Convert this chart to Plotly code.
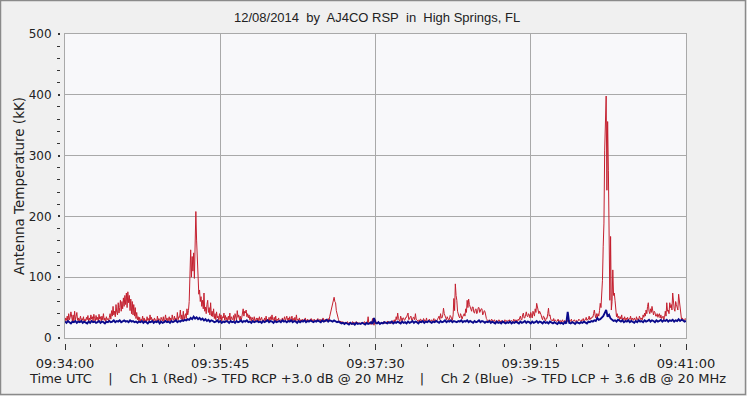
import pandas as pd
import plotly.graph_objects as go

# ---------------- data ----------------
start_time = "2014-12-08 09:34:00"
end_time = "2014-12-08 09:41:00"

# Ch 1 (red), one sample every 0.5 s from 09:34:00
red_ch1 = [
    27, 33, 29, 36, 26, 40, 30, 34, 43, 31, 28, 38, 27, 44, 30, 35, 42, 29, 33, 27,
    30, 36, 27, 32, 29, 35, 26, 31, 28, 34, 30, 37, 27, 33, 29, 38, 31, 35, 28, 39,
    32, 28, 37, 30, 34, 27, 39, 31, 35, 28, 36, 30, 40, 29, 33, 27, 35, 30, 32, 28,
    34, 40, 31, 45, 36, 52, 38, 44, 35, 55, 42, 38, 58, 41, 50, 62, 44, 60, 48, 66,
    52, 70, 55, 74, 50, 76, 58, 70, 45, 64, 40, 60, 38, 55, 36, 50, 32, 42, 30, 35,
    28, 34, 27, 31, 29, 36, 27, 33, 28, 30, 26, 35, 29, 32, 27, 38, 30, 34, 28, 31,
    27, 33, 29, 30, 26, 36, 28, 32, 30, 27, 34, 29, 28, 35, 26, 31, 38, 29, 33, 27,
    30, 35, 28, 33, 27, 38, 31, 29, 36, 28, 33, 27, 42, 30, 35, 34, 46, 31, 38, 29,
    44, 30, 36, 40, 32, 48, 38, 45, 60, 92, 145, 100, 134, 110, 140, 98, 150, 208, 161, 120,
    90, 72, 79, 60, 68, 52, 62, 48, 74, 44, 51, 40, 55, 62, 42, 50, 38, 58, 36, 44,
    35, 48, 32, 40, 30, 43, 33, 36, 29, 40, 31, 38, 28, 35, 33, 41, 29, 37, 30, 34,
    28, 36, 30, 41, 27, 35, 32, 30, 37, 28, 40, 33, 29, 45, 34, 38, 30, 36, 29, 33,
    38, 48, 36, 44, 41, 46, 35, 40, 33, 38, 30, 35, 28, 34, 31, 29, 35, 27, 30, 33,
    28, 33, 27, 35, 29, 31, 34, 27, 30, 28, 33, 27, 36, 29, 31, 28, 34, 27, 35, 30,
    38, 30, 29, 34, 28, 36, 27, 31, 29, 33, 27, 30, 29, 28, 33, 29, 30, 35, 28, 31,
    36, 29, 33, 28, 35, 27, 30, 36, 28, 32, 29, 34, 27, 38, 29, 31, 28, 33, 27, 30,
    28, 31, 27, 30, 29, 33, 27, 29, 31, 28, 30, 27, 29, 32, 28, 30, 27, 31, 29, 28,
    30, 28, 32, 27, 29, 31, 28, 30, 27, 33, 29, 28, 31, 27, 30, 29, 32, 28, 35, 40,
    44, 50, 55, 62, 67, 60, 58, 45, 38, 33, 30, 27, 26, 28, 25, 27, 24, 26, 25, 24,
    26, 24, 27, 25, 23, 26, 24, 25, 22, 27, 24, 26, 25, 23, 27, 24, 26, 24, 25, 23,
    25, 23, 26, 24, 25, 27, 24, 26, 23, 25, 35, 24, 26, 23, 22, 25, 32, 24, 21, 26,
    30, 24, 23, 26, 27, 24, 25, 23, 26, 24, 25, 27, 24, 26, 25, 23, 28, 25, 26, 24,
    27, 25, 24, 28, 29, 26, 30, 27, 35, 30, 41, 32, 30, 27, 36, 30, 28, 33, 33, 29,
    30, 34, 34, 38, 41, 30, 31, 35, 36, 29, 29, 34, 34, 30, 40, 31, 30, 28, 27, 30,
    28, 31, 30, 27, 27, 32, 29, 27, 28, 33, 26, 29, 29, 31, 27, 28, 30, 26, 28, 32,
    27, 30, 29, 28, 31, 35, 36, 30, 40, 33, 33, 38, 49, 40, 37, 32, 30, 35, 33, 29,
    31, 37, 35, 30, 29, 38, 65, 45, 89, 70, 62, 44, 38, 35, 33, 40, 37, 31, 35, 38,
    40, 36, 48, 42, 62, 50, 64, 55, 50, 44, 44, 51, 51, 42, 41, 47, 48, 40, 43, 50,
    50, 42, 46, 48, 48, 38, 40, 45, 44, 36, 32, 30, 28, 27, 30, 28, 27, 31, 29, 28,
    28, 30, 26, 29, 29, 27, 27, 30, 28, 26, 26, 29, 28, 27, 25, 30, 27, 28, 29, 27,
    28, 30, 26, 29, 29, 27, 27, 31, 28, 26, 30, 28, 27, 31, 29, 33, 36, 30, 30, 38,
    41, 33, 33, 38, 43, 36, 35, 40, 38, 33, 42, 37, 33, 44, 39, 36, 48, 42, 57, 50,
    50, 40, 44, 38, 38, 33, 30, 36, 35, 30, 28, 33, 32, 40, 49, 36, 38, 31, 29, 30,
    28, 32, 27, 30, 29, 27, 28, 31, 27, 29, 29, 26, 28, 30, 26, 28, 29, 27, 28, 30,
    27, 30, 29, 27, 28, 31, 26, 28, 28, 30, 27, 29, 29, 27, 28, 31, 30, 28, 27, 30,
    29, 32, 28, 30, 30, 34, 29, 31, 31, 36, 30, 33, 32, 35, 34, 40, 46, 38, 33, 40,
    33, 40, 36, 45, 57, 50, 74, 95, 150, 189, 309, 360, 398, 243, 356, 276, 172, 62, 167, 46,
    60, 112, 70, 74, 62, 45, 35, 40, 33, 36, 30, 35, 31, 38, 29, 33, 30, 35, 28, 33,
    30, 34, 29, 32, 31, 36, 28, 33, 30, 29, 33, 31, 28, 35, 30, 32, 29, 36, 31, 30,
    33, 30, 38, 34, 41, 36, 46, 40, 52, 58, 44, 40, 48, 42, 52, 46, 38, 44, 42, 36,
    36, 40, 34, 38, 40, 33, 38, 32, 35, 36, 30, 34, 44, 36, 58, 44, 46, 40, 58, 50,
    55, 46, 74, 52, 48, 44, 60, 55, 52, 46, 72, 60, 44, 36, 30, 33, 31, 28, 29, 32,
    30,
]

# Ch 2 (blue), one sample every 1 s from 09:34:00
blue_ch2 = [
    27, 25, 28, 26, 24, 27, 26, 28, 25, 27,
    26, 28, 25, 27, 26, 24, 27, 25, 28, 26,
    27, 25, 26, 28, 25, 27, 26, 24, 27, 26,
    28, 26, 27, 29, 26, 28, 27, 29, 26, 28,
    29, 27, 28, 26, 29, 27, 28, 26, 27, 25,
    27, 26, 28, 25, 27, 26, 24, 27, 26, 28,
    25, 27, 26, 28, 24, 27, 25, 26, 28, 26,
    27, 25, 28, 26, 27, 29, 26, 28, 27, 29,
    28, 30, 29, 31, 30, 33, 31, 35, 32, 34,
    31, 33, 30, 32, 29, 31, 28, 30, 27, 29,
    28, 26, 27, 29, 26, 28, 25, 27, 26, 28,
    27, 25, 28, 26, 27, 25, 28, 26, 27, 29,
    26, 28, 27, 29, 26, 27, 25, 28, 26, 27,
    28, 26, 27, 25, 28, 26, 27, 29, 26, 28,
    27, 25, 28, 26, 27, 28, 26, 29, 27, 28,
    26, 28, 27, 29, 26, 28, 27, 25, 28, 26,
    28, 27, 29, 26, 28, 27, 29, 28, 26, 28,
    27, 29, 28, 26, 29, 27, 28, 30, 27, 29,
    28, 27, 29, 28, 26, 27, 25, 24, 25, 23,
    25, 24, 22, 25, 23, 24, 22, 25, 23, 24,
    23, 25, 24, 22, 25, 23, 24, 26, 23, 33,
    25, 24, 26, 23, 25, 24, 26, 25, 24, 26,
    25, 27, 24, 26, 25, 27, 26, 24, 27, 25,
    26, 24, 27, 25, 26, 28, 25, 27, 26, 24,
    27, 26, 28, 25, 27, 26, 28, 27, 25, 27,
    26, 28, 27, 25, 28, 26, 27, 29, 26, 28,
    27, 29, 26, 28, 27, 26, 28, 27, 29, 26,
    28, 27, 29, 26, 28, 27, 25, 28, 26, 27,
    29, 26, 28, 27, 25, 27, 26, 28, 25, 27,
    26, 24, 27, 25, 26, 24, 27, 25, 24, 26,
    25, 27, 24, 26, 25, 27, 26, 24, 27, 25,
    26, 28, 25, 27, 26, 24, 27, 25, 26, 28,
    25, 27, 26, 24, 27, 25, 26, 24, 27, 25,
    24, 26, 25, 23, 26, 24, 25, 23, 26, 24,
    43, 25, 24, 26, 25, 23, 26, 25, 24, 26,
    25, 27, 26, 24, 27, 26, 28, 27, 29, 28,
    33, 30, 31, 33, 36, 41, 46, 35, 38, 32,
    30, 28, 29, 27, 30, 28, 27, 29, 26, 28,
    27, 29, 26, 28, 27, 25, 28, 26, 29, 27,
    28, 26, 29, 27, 28, 30, 27, 29, 28, 26,
    29, 27, 28, 30, 27, 29, 28, 30, 27, 29,
    28, 30, 27, 29, 28, 31, 28, 30, 29, 27,
    28,
]

y_range = [0, 500]
title_text = "12/08/2014\u00a0 by\u00a0 AJ4CO RSP\u00a0 in\u00a0 High Springs, FL"
y_title = "Antenna Temperature (kK)"
footer_text = ("Time UTC\u00a0\u00a0\u00a0 |\u00a0\u00a0\u00a0 Ch 1 (Red) -> TFD RCP +3.0 dB @ 20 MHz"
               "\u00a0\u00a0\u00a0 |\u00a0\u00a0\u00a0 Ch 2 (Blue)\u00a0 -> TFD LCP + 3.6 dB @ 20 MHz")

red_times = pd.date_range(start_time, periods=len(red_ch1), freq="500ms")
blue_times = pd.date_range(start_time, periods=len(blue_ch2), freq="s")

# ---------------- layout geometry (pixels) ----------------
W, H = 747, 396
ML, MR, MT, MB = 50, 61, 34, 53
PLOT_L, PLOT_B = 65, 338
PW = W - ML - MR
PH = H - MT - MB


def px(xp):
    return (xp - ML) / PW


def py(yp):
    return (H - MB - yp) / PH


FONT = "DejaVu Sans"
GRID = "#A9A9A9"
TXT = "#222222"

fig = go.Figure()
fig.add_trace(go.Scatter(x=red_times, y=red_ch1, mode="lines",
                         line=dict(color="#C4202F", width=1), hoverinfo="skip"))
fig.add_trace(go.Scatter(x=blue_times, y=blue_ch2, mode="lines",
                         line=dict(color="#0A0A8C", width=1.9), hoverinfo="skip"))
# empty trace that carries the offset tick axes
fig.add_trace(go.Scatter(x=[], y=[], xaxis="x2", yaxis="y2", hoverinfo="skip"))

fig.update_layout(
    width=W, height=H,
    margin=dict(l=ML, r=MR, t=MT, b=MB, pad=0),
    paper_bgcolor="#F0F0F0",
    plot_bgcolor="#F8F8FA",
    showlegend=False,
    xaxis=dict(
        type="date", range=[start_time, end_time],
        domain=[px(PLOT_L), 1],
        tick0=start_time, dtick=105000,
        showgrid=True, gridcolor=GRID, gridwidth=1,
        showticklabels=False, ticks="",
        showline=True, linecolor=GRID, linewidth=1, mirror=True,
        zeroline=False, fixedrange=True,
    ),
    yaxis=dict(
        range=y_range, domain=[py(PLOT_B), 1],
        dtick=100,
        showgrid=True, gridcolor=GRID, gridwidth=1,
        showticklabels=False, ticks="",
        showline=True, linecolor=GRID, linewidth=1, mirror=True,
        zeroline=False, fixedrange=True,
    ),
    xaxis2=dict(
        type="date", range=[start_time, end_time],
        overlaying="x", anchor="free", position=0,
        tick0=start_time, dtick=105000, tickformat="%H:%M:%S",
        ticks="outside", ticklen=6, tickwidth=1, tickcolor="#333333",
        minor=dict(dtick=17500, tick0=start_time, ticks="outside", ticklen=3,
                   tickwidth=1, tickcolor="#333333", showgrid=False),
        showgrid=False, showline=False, zeroline=False,
        tickfont=dict(family=FONT, size=13, color=TXT),
        ticklabelstandoff=2,
        fixedrange=True,
    ),
    yaxis2=dict(
        range=y_range, overlaying="y", anchor="free", position=px(60),
        dtick=100,
        ticks="outside", ticklen=2, tickwidth=2, tickcolor="#333333",
        minor=dict(dtick=20, ticks="outside", ticklen=3, tickwidth=1,
                   tickcolor="#333333", showgrid=False),
        showgrid=False, showline=False, zeroline=False,
        tickfont=dict(family=FONT, size=12, color=TXT),
        ticklabelstandoff=4,
        fixedrange=True,
    ),
)

fig.add_annotation(text=title_text, xref="paper", yref="paper",
                   x=px(377), y=py(18), showarrow=False,
                   xanchor="center", yanchor="middle",
                   font=dict(family="Liberation Sans", size=13, color=TXT))
fig.add_annotation(text=y_title, xref="paper", yref="paper",
                   x=px(19), y=py(186), showarrow=False, textangle=-90,
                   xanchor="center", yanchor="middle",
                   font=dict(family=FONT, size=13.5, color=TXT))
fig.add_annotation(text=footer_text, xref="paper", yref="paper",
                   x=px(377), y=py(378), showarrow=False,
                   xanchor="center", yanchor="middle",
                   font=dict(family=FONT, size=13, color=TXT))

# outer frame of the picture
fig.add_shape(type="rect", xref="paper", yref="paper",
              x0=px(0.5), x1=px(W - 1.5), y0=py(H - 1.5), y1=py(0.5),
              line=dict(color="#8A8A8A", width=1.5), layer="above")

fig.write_html("out.html")
